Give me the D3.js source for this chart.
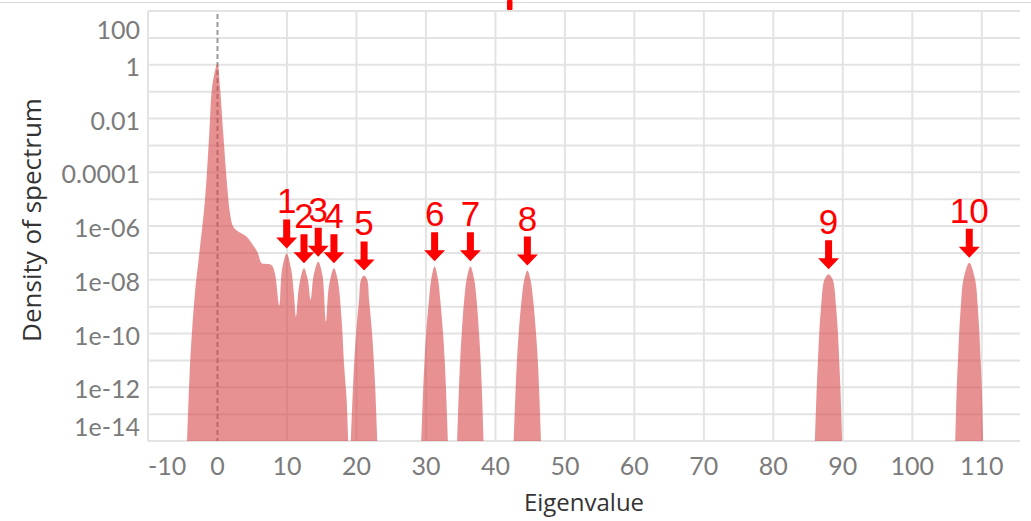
<!DOCTYPE html>
<html>
<head>
<meta charset="utf-8">
<script src="https://cdn.jsdelivr.net/npm/d3@7"></script>
<style>
body { margin: 0; background: #fff; }
svg { display: block; }
</style>
</head>
<body>
<svg id="chart" width="1031" height="521"></svg>
<script>
// spectrum outline; null marks a gap (density below the axis floor)
const eigenvalue = [
  -4.35, -3.86, -3.24, -2.62, -1.8, -1.18, -0.83, -0.5, 0.0, 0.36, 0.83, 1.41, 1.8, 2.27, 2.99,
  4.2, 4.92, 5.73, 6.36, 6.83, 7.8, 8.27, 8.89, 9.3, 9.96, 10.6, 11.0, 11.3, 11.75, 12.45, 13.0,
  13.41, 13.85, 14.5, 15.1, 15.61, 16.05, 16.76, 17.3, 17.87, 18.24, 18.59, 18.82,
  null,
  19.2, 19.5, 19.7, 19.95, 20.38, 20.65, 21.1, 21.55, 21.82, 22.25, 22.5, 22.7, 23.0,
  null,
  29.33, 29.62, 29.8, 30.03, 30.44, 30.75, 31.25, 31.75, 32.06, 32.47, 32.7, 32.88, 33.17,
  null,
  34.5, 34.76, 34.93, 35.15, 35.51, 35.85, 36.4, 36.95, 37.29, 37.65, 37.87, 38.04, 38.3,
  null,
  42.63, 42.92, 43.1, 43.35, 43.77, 44.15, 44.6, 45.05, 45.43, 45.85, 46.1, 46.28, 46.57,
  null,
  85.99, 86.25, 86.42, 86.6, 86.87, 87.35, 87.95, 88.55, 89.03, 89.3, 89.48, 89.65, 89.91,
  null,
  106.19, 106.4, 106.57, 106.74, 106.98, 107.35, 108.2, 109.05, 109.42, 109.66, 109.83, 110.0, 110.21
];
const density = [
  1e-14, 1.9e-11, 3.2e-9, 9.5e-8, 9.3e-6, 2.8e-3, 0.11, 0.4, 1.1, 0.15, 2.8e-3, 2.9e-5, 3.0e-6, 9.3e-7, 6.2e-7,
  4.0e-7, 2.3e-7, 1.1e-7, 4.1e-8, 3.9e-8, 3.5e-8, 1.7e-8, 1.1e-9, 2.5e-8, 9.5e-8, 2.5e-8, 3e-9, 4.3e-10, 6e-9, 2.7e-8, 1.0e-8,
  1.8e-9, 1.5e-8, 4.7e-8, 1.5e-8, 2.8e-10, 6e-9, 2.7e-8, 1.0e-8, 3.2e-10, 5.8e-12, 3.4e-13, 1e-14,
  null,
  1e-14, 1e-12, 1e-11, 1e-10, 1.8e-9, 1e-8, 1.45e-8, 1e-8, 1.8e-9, 1e-10, 1e-11, 1e-12, 1e-14,
  null,
  1e-14, 1e-12, 1e-11, 1e-10, 1.8e-9, 1e-8, 3.2e-8, 1e-8, 1.8e-9, 1e-10, 1e-11, 1e-12, 1e-14,
  null,
  1e-14, 1e-12, 1e-11, 1e-10, 1.8e-9, 1e-8, 3.2e-8, 1e-8, 1.8e-9, 1e-10, 1e-11, 1e-12, 1e-14,
  null,
  1e-14, 1e-12, 1e-11, 1e-10, 1.8e-9, 1e-8, 2.2e-8, 1e-8, 1.8e-9, 1e-10, 1e-11, 1e-12, 1e-14,
  null,
  1e-14, 1e-12, 1e-11, 1e-10, 1e-9, 1e-8, 1.6e-8, 1e-8, 1e-9, 1e-10, 1e-11, 1e-12, 1e-14,
  null,
  1e-14, 1e-12, 1e-11, 1e-10, 1e-9, 1e-8, 4.3e-8, 1e-8, 1e-9, 1e-10, 1e-11, 1e-12, 1e-14
];

// outlier eigenvalues marked with arrows
const peakLabels = ["1", "2", "3", "4", "5", "6", "7", "8", "9", "10"];
const peakEigenvalue = [9.96, 12.45, 14.5, 16.76, 21.1, 31.25, 36.4, 44.6, 87.95, 108.2];
const peakDensity = [9.5e-8, 2.7e-8, 4.7e-8, 2.7e-8, 1.45e-8, 3.2e-8, 3.2e-8, 2.2e-8, 1.6e-8, 4.3e-8];

const xTickValues = [-10, 0, 10, 20, 30, 40, 50, 60, 70, 80, 90, 100, 110];
const yTickValues = [1e2, 1, 1e-2, 1e-4, 1e-6, 1e-8, 1e-10, 1e-12, 1e-14];
const yTickLabels = ["100", "1", "0.01", "0.0001", "1e-06", "1e-08", "1e-10", "1e-12", "1e-14"];
const yGridValues = [1e2, 1e1, 1, 1e-1, 1e-2, 1e-3, 1e-4, 1e-5, 1e-6, 1e-7, 1e-8, 1e-9, 1e-10, 1e-11, 1e-12, 1e-13, 1e-14];

const svg = d3.select("#chart");
const plotLeft = 148, plotRight = 1020, plotTop = 11, plotBottom = 441;

const x = d3.scaleLinear().domain([-10, 115.5]).range([plotLeft, plotRight]);
const y = d3.scaleLog().domain([1e-14, 100]).range([plotBottom, plotTop]);

// little header bits
svg.append("line")
    .attr("x1", 0).attr("x2", 1031).attr("y1", 2.5).attr("y2", 2.5)
    .attr("stroke", "#d9d9d9").attr("stroke-width", 1);
svg.append("rect")
    .attr("x", 507).attr("y", 0).attr("width", 5.5).attr("height", 10).attr("rx", 1)
    .attr("fill", "#ff0000");

// grid
const grid = svg.append("g").attr("stroke", "#e3e3e3").attr("stroke-width", 2);
grid.selectAll(".hg").data(yGridValues).enter().append("line")
    .attr("x1", plotLeft).attr("x2", plotRight)
    .attr("y1", d => y(d)).attr("y2", d => y(d));
grid.selectAll(".vg").data(xTickValues.filter(d => d !== 0)).enter().append("line")
    .attr("x1", d => x(d)).attr("x2", d => x(d))
    .attr("y1", plotTop).attr("y2", plotBottom);

// zero reference line
svg.append("line")
    .attr("x1", x(0)).attr("x2", x(0)).attr("y1", plotTop + 3).attr("y2", plotBottom)
    .attr("stroke", "#999999").attr("stroke-width", 2).attr("stroke-dasharray", "5,3");

// density area
const points = eigenvalue.map((v, i) => ({ v: v, d: density[i] }));
const area = d3.area()
    .defined(p => p.d !== null)
    .x(p => x(p.v))
    .y0(y(1e-14))
    .y1(p => y(p.d))
    .curve(d3.curveCatmullRom.alpha(0.5));

svg.append("path")
    .datum(points)
    .attr("d", area)
    .attr("fill", "#d9474b")
    .attr("fill-opacity", 0.6);

// x tick labels
svg.selectAll(".xt").data(xTickValues).enter().append("text")
    .attr("x", (d, i) => i === 0 ? plotLeft : x(d))
    .attr("y", 475)
    .attr("text-anchor", (d, i) => i === 0 ? "start" : "middle")
    .attr("font-family", "Lato, 'Open Sans', sans-serif")
    .attr("font-size", 25)
    .attr("fill", "#7b7b7b")
    .text(d => d);

// y tick labels (first and last pushed inside the plot)
svg.selectAll(".yt").data(yTickValues).enter().append("text")
    .attr("x", 140)
    .attr("y", d => Math.min(Math.max(y(d) + 11, plotTop + 28), plotBottom - 5))
    .attr("text-anchor", "end")
    .attr("font-family", "Lato, 'Open Sans', sans-serif")
    .attr("font-size", 25)
    .attr("fill", "#7b7b7b")
    .text((d, i) => yTickLabels[i]);

// axis titles
svg.append("text")
    .attr("x", (plotLeft + plotRight) / 2).attr("y", 511)
    .attr("text-anchor", "middle")
    .attr("font-family", "'Open Sans', sans-serif")
    .attr("font-size", 24)
    .attr("fill", "#333333")
    .text("Eigenvalue");

svg.append("text")
    .attr("transform", "translate(41,220) rotate(-90)")
    .attr("text-anchor", "middle")
    .attr("font-family", "'Open Sans', sans-serif")
    .attr("font-size", 26)
    .attr("fill", "#333333")
    .text("Density of spectrum");

// arrows + numbers
const arrows = svg.selectAll(".arrow")
    .data(peakLabels.map((lab, i) => ({ lab: lab, v: peakEigenvalue[i], d: peakDensity[i] })))
    .enter().append("g");

arrows.append("path")
    .attr("d", p => {
        const tx = x(p.v), ty = y(p.d) - 5;
        return `M${tx},${ty} L${tx - 10.5},${ty - 11} L${tx - 3.5},${ty - 11} L${tx - 3.5},${ty - 29}` +
               ` L${tx + 3.5},${ty - 29} L${tx + 3.5},${ty - 11} L${tx + 10.5},${ty - 11} Z`;
    })
    .attr("fill", "#ff0000");

arrows.append("text")
    .attr("x", p => x(p.v))
    .attr("y", p => y(p.d) - 40)
    .attr("text-anchor", "middle")
    .attr("font-family", "'Liberation Sans', Arial, sans-serif")
    .attr("font-size", 35)
    .attr("fill", "#ff0000")
    .text(p => p.lab);
</script>
</body>
</html>
